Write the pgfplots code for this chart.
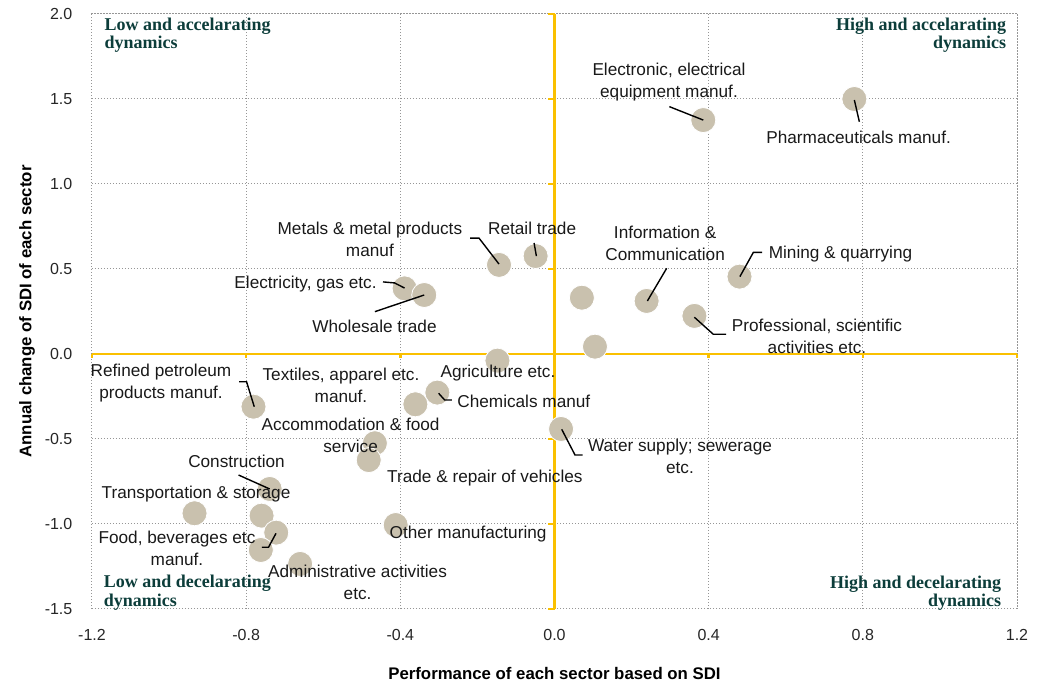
\documentclass[border=0pt]{standalone}
\usepackage{fontspec}
\setmainfont{Liberation Sans}
\newfontfamily\qfont{Liberation Serif}
\usepackage{pgfplots}
\pgfplotsset{compat=1.18}
\definecolor{ylw}{RGB}{250,192,0}
\definecolor{dotc}{RGB}{201,193,174}
\definecolor{qteal}{RGB}{12,61,58}
\definecolor{gridc}{RGB}{150,150,150}
\tikzset{
  lbl/.style={inner sep=0pt, align=center, font=\fontsize{8.6}{11}\selectfont, text=black!90},
  quad/.style={inner sep=0pt, font=\qfont\bfseries\fontsize{9}{9.3}\selectfont, text=qteal},
  lead/.style={black, line width=0.7pt},
}
\begin{document}
\begin{tikzpicture}
\begin{axis}[name=ax, scale only axis, width=462.5pt, height=297.5pt,
  set layers=standard,
  xmin=-1.2, xmax=1.2, ymin=-1.5, ymax=2,
  xtick={-1.2,-0.8,-0.4,0,0.4,0.8,1.2},
  ytick={-1.5,-1,-0.5,0,0.5,1,1.5,2},
  /pgf/number format/assume math mode=true,
  /pgf/number format/.cd, fixed, fixed zerofill, precision=1, /pgfplots/.cd,
  tick label style={font=\fontsize{8}{9.6}\selectfont, text=black!85},
  xticklabel style={anchor=base, yshift=-16pt},
  yticklabel style={anchor=east, xshift=-6.3pt},
  major tick length=0pt,
  grid=major,
  grid style={gridc, line width=0.5pt, dash pattern=on 0.6pt off 0.9pt},
  axis line style={gridc, line width=0.5pt, dash pattern=on 0.6pt off 0.9pt},
  every axis x label/.style={at={(axis description cs:0.5,-0.1193)}, anchor=base},
  every axis y label/.style={at={(axis description cs:-0.0703,0.5)}, rotate=90, anchor=center},
  label style={font=\fontsize{8.4}{10}\selectfont\bfseries},
  xlabel={Performance of each sector based on SDI},
  ylabel={Annual change of SDI of each sector},
  clip=false,
]
% yellow axes
\addplot[ylw, line width=1.3pt] coordinates {(0,-1.5) (0,2)};
\addplot[ylw, line width=1.3pt] coordinates {(-1.2,0) (1.2,0)};
\pgfplotsinvokeforeach{-1.5,-1,-0.5,0.5,1,1.5,2}{
  \draw[ylw, line width=1.3pt] (axis cs:0,#1) -- (axis cs:-0.0156,#1);
}
\pgfplotsinvokeforeach{-1.2,-0.8,-0.4,0.4,0.8,1.2}{
  \draw[ylw, line width=1.3pt] (axis cs:#1,0) -- (axis cs:#1,-0.026);
}
% points
\addplot[only marks, mark=*, mark size=6.25pt, mark options={fill=dotc, draw=white, line width=0.4pt}] table {
x y
0.778 1.500
0.386 1.376
0.480 0.455
0.363 0.224
0.239 0.312
0.071 0.331
0.105 0.043
-0.049 0.576
-0.144 0.524
-0.389 0.386
-0.338 0.347
-0.148 -0.039
-0.304 -0.227
-0.361 -0.296
0.017 -0.441
-0.466 -0.525
-0.482 -0.624
-0.781 -0.310
-0.739 -0.794
-0.934 -0.937
-0.760 -0.951
-0.722 -1.051
-0.762 -1.153
-0.660 -1.235
-0.412 -1.006
};
\begin{pgfonlayer}{axis foreground}
% leader lines
\draw[lead] (axis cs:-0.219,0.682) -- (axis cs:-0.196,0.682) -- (axis cs:-0.144,0.529);
\draw[lead] (axis cs:-0.053,0.653) -- (axis cs:-0.047,0.576);
\draw[lead] (axis cs:-0.445,0.424) -- (axis cs:-0.415,0.418) -- (axis cs:-0.389,0.388);
\draw[lead] (axis cs:-0.466,0.249) -- (axis cs:-0.338,0.347);
\draw[lead] (axis cs:0.298,1.455) -- (axis cs:0.386,1.376);
\draw[lead] (axis cs:0.791,1.366) -- (axis cs:0.778,1.494);
\draw[lead] (axis cs:0.291,0.504) -- (axis cs:0.241,0.312);
\draw[lead] (axis cs:0.539,0.598) -- (axis cs:0.516,0.598) -- (axis cs:0.481,0.455);
\draw[lead] (axis cs:0.363,0.216) -- (axis cs:0.412,0.116) -- (axis cs:0.445,0.116);
\draw[lead] (axis cs:-0.818,-0.163) -- (axis cs:-0.799,-0.163) -- (axis cs:-0.779,-0.310);
\draw[lead] (axis cs:-0.2665,-0.2706) -- (axis cs:-0.285,-0.2706) -- (axis cs:-0.3007,-0.231);
\draw[lead] (axis cs:-0.8197,-0.712) -- (axis cs:-0.739,-0.794);
\draw[lead] (axis cs:-0.7595,-1.137) -- (axis cs:-0.742,-1.137) -- (axis cs:-0.7226,-1.055);
\draw[lead] (axis cs:0.0187,-0.443) -- (axis cs:0.0532,-0.594) -- (axis cs:0.0732,-0.594);
% labels
\node[lbl] at (axis cs:-0.479,0.676) {Metals \& metal products\\manuf};
\node[lbl] at (axis cs:-0.058,0.741) {Retail trade};
\node[lbl, anchor=east] at (axis cs:-0.4606,0.412) {Electricity, gas etc.};
\node[lbl] at (axis cs:-0.467,0.165) {Wholesale trade};
\node[lbl] at (axis cs:0.297,1.600) {Electronic, electrical\\equipment manuf.};
\node[lbl] at (axis cs:0.789,1.275) {Pharmaceuticals manuf.};
\node[lbl] at (axis cs:0.287,0.653) {Information \&\\Communication};
\node[lbl, anchor=west] at (axis cs:0.555,0.586) {Mining \& quarrying};
\node[lbl] at (axis cs:0.681,0.102) {Professional, scientific\\activities etc.};
\node[lbl] at (axis cs:-1.021,-0.171) {Refined petroleum\\products manuf.};
\node[lbl] at (axis cs:-0.554,-0.184) {Textiles, apparel etc.\\manuf.};
\node[lbl] at (axis cs:-0.1466,-0.1135) {Agriculture etc.};
\node[lbl, anchor=west] at (axis cs:-0.253,-0.276) {Chemicals manuf};
\node[lbl] at (axis cs:-0.529,-0.481) {Accommodation \& food\\service};
\node[lbl] at (axis cs:-0.825,-0.634) {Construction};
\node[lbl] at (axis cs:-0.930,-0.824) {Transportation \& storage};
\node[lbl] at (axis cs:-0.9795,-1.143) {Food, beverages etc\\manuf.};
\node[lbl, anchor=west] at (axis cs:-0.4286,-1.059) {Other manufacturing};
\node[lbl] at (axis cs:-0.511,-1.343) {Administrative activities\\etc.};
\node[lbl, anchor=west] at (axis cs:-0.435,-0.731) {Trade \& repair of vehicles};
\node[lbl] at (axis cs:0.3256,-0.604) {Water supply; sewerage\\etc.};
% quadrant labels
\node[quad, align=left, anchor=west] at (axis cs:-1.168,1.876) {Low and accelarating\\dynamics};
\node[quad, align=right, anchor=east] at (axis cs:1.173,1.876) {High and accelarating\\dynamics};
\node[quad, align=left, anchor=west] at (axis cs:-1.170,-1.403) {Low and decelarating\\dynamics};
\node[quad, align=right, anchor=east] at (axis cs:1.160,-1.408) {High and decelarating\\dynamics};
\end{pgfonlayer}
\end{axis}
\pgfresetboundingbox
\path ([shift={(-46pt,-37pt)}]ax.south west) rectangle ([shift={(19pt,7pt)}]ax.north east);
\end{tikzpicture}
\end{document}
